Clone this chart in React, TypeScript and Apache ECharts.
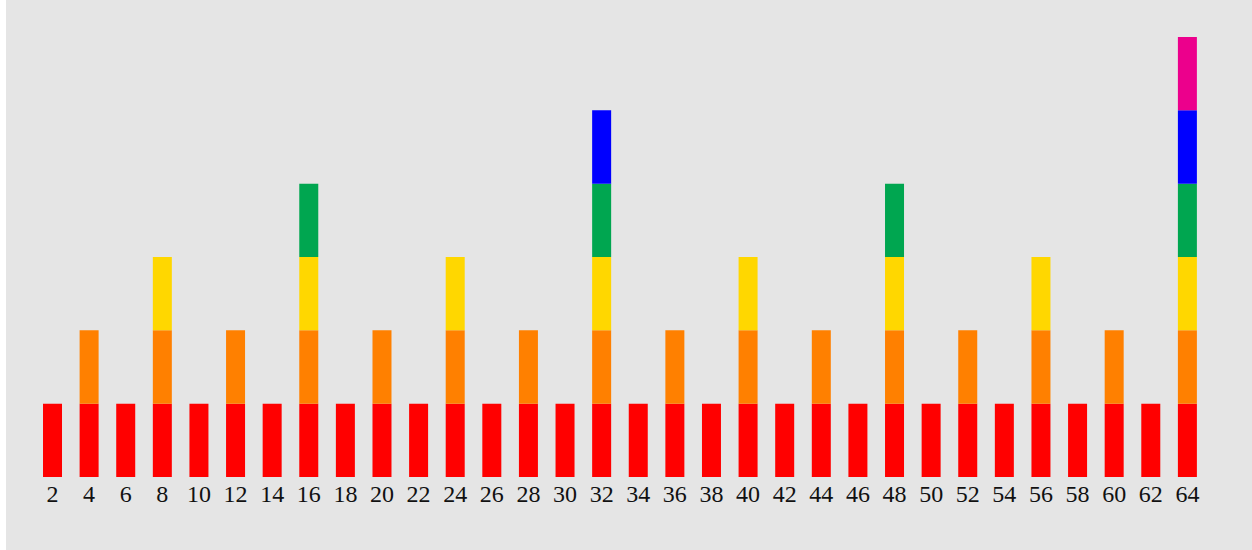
import React, { useEffect, useRef } from "react";
import * as echarts from "echarts";

const categories = ["2","4","6","8","10","12","14","16","18","20","22","24","26","28","30","32","34","36","38","40","42","44","46","48","50","52","54","56","58","60","62","64"];

const red =     [1,1,1,1,1,1,1,1,1,1,1,1,1,1,1,1,1,1,1,1,1,1,1,1,1,1,1,1,1,1,1,1];
const orange =  [0,1,0,1,0,1,0,1,0,1,0,1,0,1,0,1,0,1,0,1,0,1,0,1,0,1,0,1,0,1,0,1];
const yellow =  [0,0,0,1,0,0,0,1,0,0,0,1,0,0,0,1,0,0,0,1,0,0,0,1,0,0,0,1,0,0,0,1];
const green =   [0,0,0,0,0,0,0,1,0,0,0,0,0,0,0,1,0,0,0,0,0,0,0,1,0,0,0,0,0,0,0,1];
const blue =    [0,0,0,0,0,0,0,0,0,0,0,0,0,0,0,1,0,0,0,0,0,0,0,0,0,0,0,0,0,0,0,1];
const magenta = [0,0,0,0,0,0,0,0,0,0,0,0,0,0,0,0,0,0,0,0,0,0,0,0,0,0,0,0,0,0,0,1];

const layers = [
  { name: "1", data: red, color: "#ff0000" },
  { name: "2", data: orange, color: "#ff8000" },
  { name: "3", data: yellow, color: "#ffd700" },
  { name: "4", data: green, color: "#00a650" },
  { name: "5", data: blue, color: "#0000ff" },
  { name: "6", data: magenta, color: "#ec008c" },
];

export default function App() {
  const ref = useRef<HTMLDivElement>(null);
  useEffect(() => {
    if (!ref.current) return;
    const chart = echarts.init(ref.current, null, { renderer: "svg" });
    chart.setOption({
      animation: false,
      backgroundColor: "#e5e5e5",
      grid: { left: 28.2, right: 46.3, top: 37, bottom: 73, containLabel: false },
      xAxis: {
        type: "category",
        data: categories,
        axisLine: { show: false },
        axisTick: { show: false },
        axisLabel: {
          interval: 0,
          color: "#111",
          fontFamily: "'Liberation Serif', 'DejaVu Serif', serif",
          fontSize: 24,
          margin: 5,
        },
      },
      yAxis: {
        type: "value",
        min: 0,
        max: 6,
        interval: 1,
        show: false,
        splitLine: { show: false },
      },
      series: layers.map((l) => ({
        type: "bar",
        name: l.name,
        stack: "v",
        data: l.data.map((v) => (v ? v : null)),
        barWidth: 19,
        itemStyle: { color: l.color },
      })),
    });
    return () => chart.dispose();
  }, []);
  return (
    <div
      ref={ref}
      style={{ position: "absolute", left: 6, top: 0, width: 1246, height: 550 }}
    />
  );
}
